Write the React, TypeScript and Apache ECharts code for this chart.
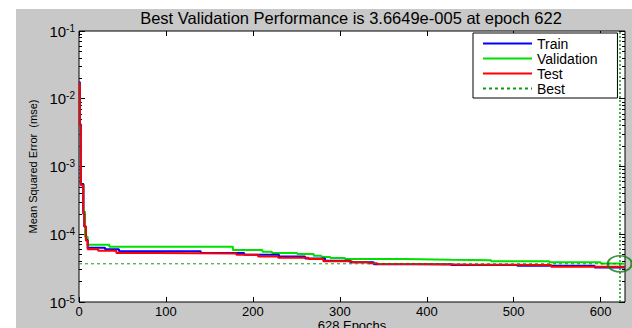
import React, { useEffect, useRef } from "react";
import * as echarts from "echarts";

const titleText = "Best Validation Performance is 3.6649e-005 at epoch 622";
const xName = "628 Epochs";
const yName = "Mean Squared Error  (mse)";
const xTicks = [0, 100, 200, 300, 400, 500, 600];
const yMajor = [1e-5, 1e-4, 1e-3, 1e-2, 1e-1];
const yMinor = [
  2e-5, 3e-5, 4e-5, 5e-5, 6e-5, 7e-5, 8e-5, 9e-5,
  2e-4, 3e-4, 4e-4, 5e-4, 6e-4, 7e-4, 8e-4, 9e-4,
  2e-3, 3e-3, 4e-3, 5e-3, 6e-3, 7e-3, 8e-3, 9e-3,
  2e-2, 3e-2, 4e-2, 5e-2, 6e-2, 7e-2, 8e-2, 9e-2,
];
const bestEpoch = 622;
const bestValue = 3.6649e-5;
const maxEpoch = 628;

const trainEpochs = [0, 1, 2, 5, 6, 8, 10, 30, 46, 140, 190, 230, 260, 283, 312, 339, 428, 504, 593, 628];
const trainValues = [1.75e-2, 4.2e-3, 5.5e-4, 2.0e-4, 1.3e-4, 8.2e-5, 6.3e-5, 6.0e-5, 5.6e-5, 5.3e-5, 5.0e-5, 4.7e-5, 4.4e-5, 4.05e-5, 3.85e-5, 3.62e-5, 3.52e-5, 3.42e-5, 3.22e-5, 3.2e-5];

const valEpochs = [0, 1, 2, 5, 7, 10, 35, 177, 211, 222, 251, 270, 279, 289, 306, 373, 428, 474, 541, 600, 622, 628];
const valValues = [1.75e-2, 4.2e-3, 5.5e-4, 2.15e-4, 9.2e-5, 7.0e-5, 6.55e-5, 5.85e-5, 5.5e-5, 5.3e-5, 5.1e-5, 4.8e-5, 4.6e-5, 4.45e-5, 4.3e-5, 4.2e-5, 4.13e-5, 4.0e-5, 3.85e-5, 3.7e-5, 3.6649e-5, 3.68e-5];

const testEpochs = [0, 1, 2, 5, 6, 8, 10, 22, 43, 90, 181, 206, 229, 264, 281, 314, 333, 343, 385, 453, 543, 628];
const testValues = [1.7e-2, 4.0e-3, 5.3e-4, 2.0e-4, 1.3e-4, 8.0e-5, 6.0e-5, 5.7e-5, 5.3e-5, 5.2e-5, 5.0e-5, 4.7e-5, 4.5e-5, 4.3e-5, 4.0e-5, 3.85e-5, 3.73e-5, 3.64e-5, 3.56e-5, 3.52e-5, 3.3e-5, 3.28e-5];

const zip = (xs: number[], ys: number[]) => xs.map((x, i) => [x, ys[i]]);

export default function App() {
  const ref = useRef<HTMLDivElement>(null);
  useEffect(() => {
    if (!ref.current) return;
    const chart = echarts.init(ref.current, null, { renderer: "svg" });
    const font = "Arial, 'Liberation Sans', sans-serif";
    const tickBase = {
      show: true,
      inside: true,
      lineStyle: { color: "#000", width: 1 },
    };
    const yLog = {
      type: "log",
      logBase: 10,
      min: 1e-5,
      max: 1e-1,
      gridIndex: 0,
      splitLine: { show: false },
      axisLine: { show: false },
      silent: true,
    };
    chart.setOption({
      animation: false,
      backgroundColor: "#c8c8c8",
      textStyle: { fontFamily: font },
      graphic: [
        { type: "rect", shape: { x: 0, y: 0, width: 16, height: 328 }, style: { fill: "#fff" }, silent: true },
        { type: "rect", shape: { x: 0, y: 0, width: 632, height: 9 }, style: { fill: "#fff" }, silent: true },
      ],
      title: {
        text: titleText,
        left: 351,
        top: 9,
        textAlign: "center",
        padding: 0,
        textStyle: { fontSize: 16.5, fontWeight: "normal", color: "#000", fontFamily: font },
      },
      grid: {
        left: 79,
        right: 7,
        top: 31,
        bottom: 26,
        outerBoundsMode: "none",
        containLabel: false,
        show: true,
        backgroundColor: "#fff",
        borderColor: "#000",
        borderWidth: 1,
      },
      legend: {
        data: ["Train", "Validation", "Test", "Best"],
        orient: "vertical",
        left: 473,
        top: 33,
        padding: [3, 20, 2, 9],
        itemGap: 0,
        itemWidth: 49,
        itemHeight: 14,
        itemStyle: { opacity: 0 },
        backgroundColor: "#fff",
        borderColor: "#000",
        borderWidth: 1,
        borderRadius: 0,
        selectedMode: false,
        textStyle: { fontSize: 14, lineHeight: 15, color: "#000", fontFamily: font },
      },
      xAxis: [
        {
          type: "value",
          min: 0,
          max: maxEpoch,
          position: "bottom",
          splitLine: { show: false },
          axisLine: { show: false },
          axisTick: { ...tickBase, length: 5, customValues: xTicks },
          axisLabel: { customValues: xTicks, fontSize: 13, color: "#000", margin: 3, fontFamily: font },
          name: xName,
          nameLocation: "middle",
          nameGap: 17,
          nameMoveOverlap: false,
          nameTextStyle: { fontSize: 13, color: "#000", fontFamily: font },
          silent: true,
        },
        {
          type: "value",
          min: 0,
          max: maxEpoch,
          position: "top",
          splitLine: { show: false },
          axisLine: { show: false },
          axisTick: { ...tickBase, length: 5, customValues: xTicks },
          axisLabel: { show: false },
          silent: true,
        },
      ],
      yAxis: [
        {
          ...yLog,
          position: "left",
          axisTick: { ...tickBase, length: 6, customValues: yMajor },
          axisLabel: {
            customValues: yMajor,
            margin: 4,
            color: "#000",
            formatter: (v: number) => `{b|10}{s|-${Math.round(-Math.log10(v))}}`,
            rich: {
              b: { fontSize: 15, color: "#000", fontFamily: font, lineHeight: 16 },
              s: { fontSize: 10, color: "#000", fontFamily: font, verticalAlign: "top", lineHeight: 16, padding: [0, 0, 10, 0] },
            },
          },
          name: yName,
          nameLocation: "middle",
          nameGap: 41,
          nameMoveOverlap: false,
          nameTextStyle: { fontSize: 11, color: "#000", fontFamily: font },
        },
        {
          ...yLog,
          position: "left",
          axisTick: { ...tickBase, length: 3, customValues: yMinor },
          axisLabel: { show: false },
        },
        {
          ...yLog,
          position: "right",
          axisTick: { ...tickBase, length: 6, customValues: yMajor },
          axisLabel: { show: false },
        },
        {
          ...yLog,
          position: "right",
          axisTick: { ...tickBase, length: 3, customValues: yMinor },
          axisLabel: { show: false },
        },
      ],
      series: [
        {
          name: "Train",
          type: "line",
          step: "end",
          symbol: "none",
          data: zip(trainEpochs, trainValues),
          lineStyle: { color: "#0000ff", width: 2 },
          itemStyle: { color: "#0000ff" },
          z: 3,
        },
        {
          name: "Validation",
          type: "line",
          step: "end",
          symbol: "none",
          data: zip(valEpochs, valValues),
          lineStyle: { color: "#00e000", width: 2 },
          itemStyle: { color: "#00e000" },
          z: 2,
        },
        {
          name: "Test",
          type: "line",
          step: "end",
          symbol: "none",
          data: zip(testEpochs, testValues),
          lineStyle: { color: "#ff0000", width: 2 },
          itemStyle: { color: "#ff0000" },
          z: 4,
        },
        {
          name: "Best",
          type: "line",
          symbol: "none",
          data: [
            [0, bestValue],
            [maxEpoch, bestValue],
          ],
          lineStyle: { color: "#119911", width: 1, type: [3, 3] },
          itemStyle: { color: "#119911" },
          z: 5,
          markLine: {
            silent: true,
            symbol: "none",
            label: { show: false },
            lineStyle: { color: "#119911", width: 1.5, type: [2, 2] },
            data: [{ xAxis: bestEpoch }],
          },
        },
        {
          name: "BestPoint",
          type: "scatter",
          clip: false,
          symbol: "circle",
          symbolSize: [24, 16],
          data: [[bestEpoch, bestValue]],
          itemStyle: { color: "rgba(0,0,0,0)", borderColor: "#117a11", borderWidth: 2 },
          z: 6,
        },
      ],
    });
    return () => chart.dispose();
  }, []);
  return <div ref={ref} style={{ position: "absolute", left: 0, top: 0, width: 632, height: 328 }} />;
}
